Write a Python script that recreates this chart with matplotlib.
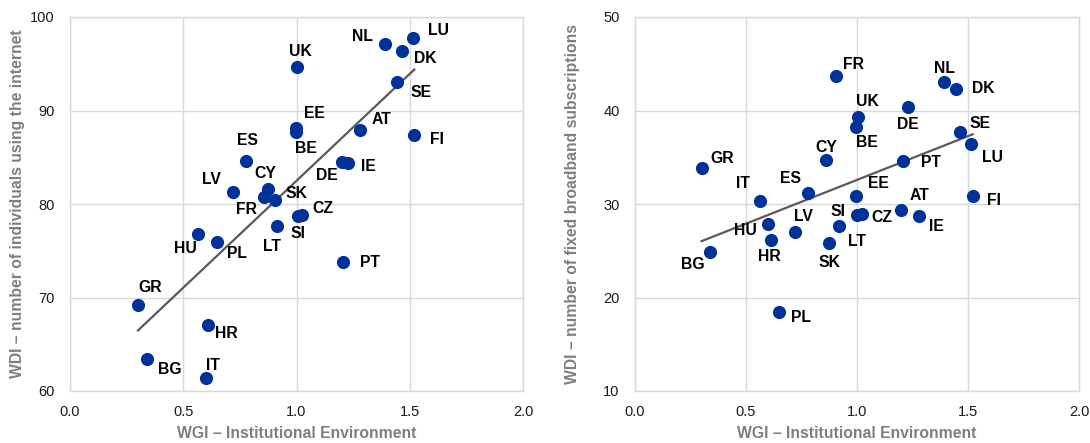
import numpy as np
from matplotlib import pyplot as plt

plt.rcParams['font.family'] = ['Liberation Sans', 'DejaVu Sans']

# left panel: internet users
internet_codes = ['LU', 'NL', 'DK', 'UK', 'SE', 'EE', 'BE', 'AT', 'FI', 'ES', 'DE', 'IE', 'LV',
                  'CY', 'FR', 'SK', 'CZ', 'SI', 'LT', 'HU', 'PL', 'PT', 'GR', 'HR', 'BG', 'IT']
internet_wgi = [1.515, 1.392, 1.465, 1.002, 1.445, 0.997, 0.997, 1.28, 1.52, 0.777, 1.2, 1.229, 0.72,
                0.874, 0.856, 0.905, 1.026, 1.005, 0.915, 0.564, 0.647, 1.206, 0.30, 0.61, 0.338, 0.599]
internet_wdi = [97.8, 97.1, 96.4, 94.7, 93.1, 88.15, 87.65, 87.9, 87.4, 84.6, 84.5, 84.4, 81.3,
                81.6, 80.75, 80.45, 78.85, 78.7, 77.6, 76.75, 75.95, 73.8, 69.15, 67.1, 63.45, 61.35]

# right panel: fixed broadband subscriptions
broadband_codes = ['FR', 'NL', 'DK', 'DE', 'UK', 'BE', 'SE', 'LU', 'CY', 'PT', 'GR', 'ES', 'EE',
                   'FI', 'IT', 'AT', 'SI', 'CZ', 'IE', 'HU', 'LV', 'LT', 'HR', 'SK', 'BG', 'PL']
broadband_wgi = [0.904, 1.394, 1.447, 1.229, 1.003, 0.995, 1.465, 1.512, 0.86, 1.206, 0.30, 0.779, 0.997,
                 1.521, 0.565, 1.2, 1.002, 1.024, 1.281, 0.598, 0.719, 0.917, 0.612, 0.876, 0.336, 0.647]
broadband_wdi = [43.7, 43.1, 42.3, 40.4, 39.3, 38.25, 37.7, 36.4, 34.7, 34.55, 33.85, 31.2, 30.9,
                 30.9, 30.35, 29.4, 28.8, 28.9, 28.7, 27.9, 27.0, 27.6, 26.2, 25.8, 24.9, 18.5]

x_ticks = [0.0, 0.5, 1.0, 1.5, 2.0]

# label offsets in pixels (dx right, dy down)
internet_offsets = {
    'LU': (25, -7), 'NL': (-23, -8), 'DK': (23, 8), 'UK': (3, -15), 'SE': (24, 11),
    'EE': (19, -14), 'BE': (10, 16), 'AT': (22, -11), 'FI': (23, 5), 'ES': (2, -20),
    'DE': (-15, 14), 'IE': (20, 4), 'LV': (-22, -12), 'CY': (-3, -16), 'FR': (-17, 13),
    'SK': (22, -6), 'CZ': (21, -6), 'SI': (0, 17), 'LT': (-5, 20), 'HU': (-12, 14),
    'PL': (20, 12), 'PT': (27, 1), 'GR': (12, -18), 'HR': (18, 9), 'BG': (23, 11), 'IT': (7, -13),
}
broadband_offsets = {
    'FR': (18, -11), 'NL': (0, -13), 'DK': (27, 0), 'DE': (0, 18), 'UK': (10, -16),
    'BE': (11, 16), 'SE': (20, -9), 'LU': (22, 13), 'CY': (0, -13), 'PT': (28, 1),
    'GR': (21, -10), 'ES': (-17, -14), 'EE': (22, -12), 'FI': (21, 5), 'IT': (-17, -17),
    'AT': (18, -14), 'SI': (-19, -4), 'CZ': (20, 3), 'IE': (17, 10), 'HU': (-22, 7),
    'LV': (9, -16), 'LT': (18, 15), 'HR': (-1, 17), 'SK': (0, 19), 'BG': (-17, 13), 'PL': (22, 6),
}

BLUE = '#003299'
GRID = '#d9d9d9'
TITLE_GREY = '#7f7f7f'


def panel(ax, codes, xs, ys, offsets, ylim, yticks, ylabel, ylabel_x):
    xs = np.array(xs)
    ys = np.array(ys)
    ax.set_xlim(0, 2)
    ax.set_ylim(*ylim)
    ax.set_xticks(x_ticks)
    ax.set_xticklabels(['%.1f' % t for t in x_ticks])
    ax.set_yticks(yticks)
    ax.grid(True, color=GRID, linewidth=1.0)
    ax.set_axisbelow(True)
    for s in ax.spines.values():
        s.set_color(GRID)
        s.set_linewidth(1.0)
    ax.tick_params(length=0, labelsize=10.5, labelcolor='#1a1a1a')
    ax.tick_params(axis='x', pad=10)
    ax.tick_params(axis='y', pad=11)

    ax.scatter(xs, ys, s=90, color=BLUE, zorder=3, linewidths=0)

    # linear trend line
    k, b = np.polyfit(xs, ys, 1)
    lx = np.array([xs.min(), xs.max()])
    ax.plot(lx, k * lx + b, color='#595959', linewidth=1.6, zorder=2)

    for c, x, y in zip(codes, xs, ys):
        dx, dy = offsets[c]
        ax.annotate(c, (x, y), xytext=(dx * 0.72, -dy * 0.72), textcoords='offset points',
                    ha='center', va='center', fontsize=11.3, fontweight='bold', color='black', zorder=4)

    ax.set_xlabel('WGI \u2013 Institutional Environment', fontsize=11.3, fontweight='bold',
                  color=TITLE_GREY, labelpad=5)
    ax.set_ylabel(ylabel, fontsize=11.3, fontweight='bold', color=TITLE_GREY)
    ax.yaxis.set_label_coords(ylabel_x, 0.5)


fig = plt.figure(figsize=(10.9, 4.43), dpi=100)
ax1 = fig.add_axes([70 / 1090, 52 / 443, 453 / 1090, 374 / 443])
ax2 = fig.add_axes([635 / 1090, 52 / 443, 444 / 1090, 374 / 443])

panel(ax1, internet_codes, internet_wgi, internet_wdi, internet_offsets, (60, 100),
      [60, 70, 80, 90, 100], 'WDI \u2013 number of individuals using the internet', -0.1)
panel(ax2, broadband_codes, broadband_wgi, broadband_wdi, broadband_offsets, (10, 50),
      [10, 20, 30, 40, 50], 'WDI \u2013 number of fixed broadband subscriptions', -0.123)

fig.savefig('out.png', dpi=100)
